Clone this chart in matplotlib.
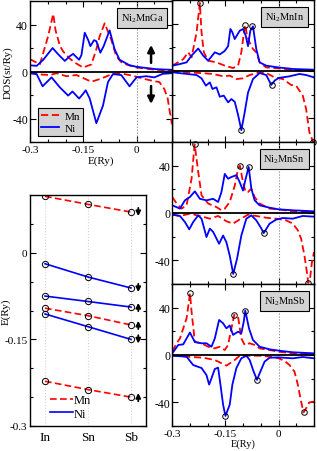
import matplotlib
matplotlib.use("Agg")
import matplotlib.pyplot as plt
from matplotlib.lines import Line2D

plt.rcParams["font.family"] = "Liberation Serif"
plt.rcParams["mathtext.fontset"] = "custom"
plt.rcParams["mathtext.rm"] = "Liberation Serif"
plt.rcParams["axes.unicode_minus"] = False

# ---- DOS curves: energy (Ry) and DOS (st/Ry) ----
ga_mn_up_e = [-0.300, -0.272, -0.249, -0.2346, -0.228, -0.216, -0.2065, -0.188, -0.174, -0.1505,
              -0.127, -0.113, -0.1037, -0.0897, -0.071, -0.057, -0.043, -0.029, 0.0, 0.055, 0.1]
ga_mn_up = [10.4, 6.2, 30, 49, 35, 22, 17, 11, 7.6, 3.4, 6, 19, 30, 41, 27, 13, 8, 6, 3.4, 1.4, 1.0]
ga_ni_up_e = [-0.300, -0.2813, -0.2626, -0.2364, -0.2206, -0.2019, -0.1879, -0.1785, -0.1617, -0.1551,
              -0.1458, -0.1364, -0.1299, -0.1196, -0.1131, -0.1019, -0.0925, -0.0757, -0.0617, -0.0477,
              -0.0196, 0.0, 0.0551, 0.1]
ga_ni_up = [5.3, 4.8, 10, 20, 14.6, 9, 13, 15, 10, 14, 33, 27, 21.6, 26.7, 25.8, 16, 21.6, 35, 19, 10,
            5.3, 4, 2, 1.4]
ga_mn_dn_e = [-0.300, -0.272, -0.244, -0.2252, -0.1972, -0.1692, -0.1271, -0.099, -0.0757, -0.0477,
              -0.0103, 0.0178, 0.0458, 0.0645, 0.0785, 0.0879, 0.0925, 0.1]
ga_mn_dn = [-1.4, -2.5, -3, -1.5, -4, -3, -8.7, -6, -3, -1.4, -3.6, -6, -8, -9, -15, -23, -32, -45]
ga_ni_dn_e = [-0.300, -0.2813, -0.2645, -0.2393, -0.2159, -0.1925, -0.1804, -0.1617, -0.1505, -0.143,
              -0.1318, -0.1131, -0.0944, -0.0804, -0.0664, -0.043, -0.0196, 0.0, 0.0271, 0.0505,
              0.0738, 0.1]
ga_ni_dn = [-1.4, -2.2, -12.6, -5, -13.5, -20.5, -17, -23, -19, -16, -23, -44, -29, -9, -2.2, -3,
            -12.6, -5, -4, -5, -2, -1.4]

in_mn_up_e = [-0.300, -0.2691, -0.255, -0.2456, -0.2316, -0.2222, -0.2175, -0.211, -0.1988, -0.1753,
              -0.1519, -0.1285, -0.1144, -0.1051, -0.0985, -0.0938, -0.0891, -0.0816, -0.0723, -0.0629,
              -0.0535, -0.0348, 0.0, 0.0402, 0.1]
in_mn_up = [4.5, 10, 15.8, 11.5, 32.4, 57.5, 32.7, 15.8, 8.7, 7.3, 4.5, 2.5, 4.5, 15.8, 31, 39, 30, 24,
            18.6, 15.8, 7.3, 3, 2.2, 1, 0.5]
in_ni_up_e = [-0.300, -0.2784, -0.2597, -0.2456, -0.2269, -0.2128, -0.1988, -0.18, -0.166, -0.1519,
              -0.1425, -0.136, -0.1304, -0.1238, -0.1097, -0.1004, -0.0929, -0.0863, -0.0798, -0.0723,
              -0.0629, -0.0535, -0.0348, 0.0, 0.0402, 0.1]
in_ni_up = [4.5, 5.9, 7.3, 13, 19, 13, 8.7, 15.8, 14, 17, 21, 35.5, 32.7, 27, 34, 35.5, 30, 21, 34, 37.7,
            18.6, 7.3, 4.5, 3, 1.7, 1.1]
in_mn_dn_e = [-0.300, -0.2597, -0.2222, -0.1847, -0.1566, -0.1379, -0.1191, -0.1004, -0.0816, -0.0535,
              -0.0348, -0.0113, 0.0122, 0.0355, 0.0496, 0.0683, 0.0777, 0.0871, 0.0977, 0.1]
in_mn_dn = [0.3, -1.1, -1.7, -2.5, -4.5, -3.9, -6.8, -6.2, -3.4, -1.1, -1.7, -5.4, -6.8, -11.8, -12.4,
            -20.8, -32, -52, -60, -64]
in_ni_dn_e = [-0.300, -0.2316, -0.2175, -0.2053, -0.1941, -0.1866, -0.1753, -0.166, -0.1547, -0.1425,
              -0.1332, -0.1238, -0.1144, -0.1051, -0.0957, -0.0863, -0.0723, -0.0535, -0.0348, -0.0207,
              -0.0113, 0.0, 0.0309, 0.059, 0.0777, 0.1]
in_ni_dn = [-1.1, -3.4, -6.2, -12.4, -9.6, -15.2, -13.8, -21.7, -20.8, -26.5, -23.7, -26, -37, -50, -35,
            -18.3, -6.8, -1.7, -3.4, -11.8, -8.2, -5.9, -4.5, -2.5, -3.4, -5.4]

sn_mn_up_e = [-0.300, -0.2878, -0.2738, -0.2597, -0.2456, -0.237, -0.2269, -0.2175, -0.1988, -0.1753,
              -0.1613, -0.1519, -0.1379, -0.1238, -0.1144, -0.109, -0.1004, -0.0929, -0.0863, -0.0769,
              -0.0676, -0.0535, -0.0254, 0.0, 0.0402, 0.1]
sn_mn_up = [13.5, 8, 3.7, 6.5, 29, 58, 34.9, 15, 8, 5, 2.3, 3.7, 9.3, 23, 37.5, 40, 26, 17.7, 17.7, 20.6,
            13.5, 8, 3.7, 3.1, 1.4, 0.8]
sn_ni_up_e = [-0.300, -0.2784, -0.2644, -0.2503, -0.2363, -0.2222, -0.2035, -0.1847, -0.1707, -0.1613,
              -0.1519, -0.1425, -0.1332, -0.1191, -0.1097, -0.1004, -0.0929, -0.0844, -0.0769, -0.0676,
              -0.0535, -0.0254, 0.0, 0.0402, 0.1]
sn_ni_up = [6.5, 3.7, 10.7, 13.5, 18.3, 12, 10.7, 12, 9.3, 17.7, 33, 29, 30.4, 32, 26, 19, 29, 39, 20.6,
            10.7, 6.5, 4.5, 3.1, 2.3, 1.4]
sn_mn_dn_e = [-0.300, -0.2784, -0.2503, -0.2222, -0.1941, -0.1707, -0.1472, -0.1285, -0.1097, -0.0863,
              -0.0629, -0.0348, -0.0067, 0.0215, 0.0402, 0.0543, 0.0636, 0.073, 0.079, 0.0838, 0.089,
              0.094, 0.1]
sn_mn_dn = [-1.4, -2.5, -0.6, -2.5, -4.8, -2.5, -7, -9, -5.4, -1.4, -2.5, -4, -4.8, -6.2, -9, -14.6,
            -21.7, -35.8, -48, -59, -55, -42, -33]
sn_ni_dn_e = [-0.300, -0.2784, -0.2644, -0.2522, -0.241, -0.2269, -0.2175, -0.2035, -0.1941, -0.1847,
              -0.1679, -0.1566, -0.1472, -0.1379, -0.128, -0.1172, -0.1051, -0.091, -0.0769, -0.0629,
              -0.0488, -0.042, -0.0254, -0.0067, 0.0122, 0.0402, 0.0683, 0.1]
sn_ni_dn = [-1.4, -2.5, -7.6, -13.8, -7.6, -2, -4.8, -20.3, -13.2, -16, -26, -19, -24.8, -36, -51.5,
            -38.6, -19, -4.8, -2, -6.2, -13, -17, -9, -5.6, -4.2, -4.8, -2.5, -3.1]

sb_mn_up_e = [-0.300, -0.2878, -0.2784, -0.2597, -0.250, -0.2456, -0.2363, -0.2175, -0.1988, -0.18,
              -0.166, -0.1519, -0.1425, -0.1332, -0.125, -0.1144, -0.1051, -0.0957, -0.0816, -0.0676,
              -0.0535, -0.0254, 0.0, 0.0402, 0.1]
sb_mn_up = [2.8, 10, 14, 31, 52, 36.6, 11, 9.9, 7, 5.6, 7, 4.2, 8.5, 22.5, 34, 32.4, 14, 8.5, 9.9, 8.5,
            5.6, 4.2, 2.8, 1.4, 0.6]
sb_ni_up_e = [-0.300, -0.2831, -0.2691, -0.2503, -0.2363, -0.2175, -0.2035, -0.1894, -0.18, -0.1679,
              -0.1566, -0.1472, -0.1379, -0.1285, -0.1144, -0.1051, -0.0984, -0.094, -0.0835, -0.0723,
              -0.0535, -0.0254, 0.0, 0.0402, 0.1]
sb_ni_up = [1.4, 8.5, 9, 19, 11, 9.9, 9.9, 7, 14, 29.6, 26.8, 22.5, 25, 17, 19.7, 18.3, 28, 37.5, 22.5,
            12.7, 7, 4.8, 3.7, 2.3, 1.4]
sb_mn_dn_e = [-0.300, -0.2597, -0.2128, -0.18, -0.1472, -0.1238, -0.1097, -0.0816, -0.0535, -0.0254,
              0.0, 0.0168, 0.0309, 0.0449, 0.0543, 0.0636, 0.0705, 0.0777, 0.0871, 0.1]
sb_mn_dn = [-0.6, -1.4, -2.3, -4.2, -9, -4.2, -0.6, -0.6, -0.6, -1.4, -2.8, -5, -8.5, -14, -25, -39.4,
            -48.5, -45, -40, -39.4]
sb_ni_dn_e = [-0.300, -0.2597, -0.241, -0.2269, -0.2175, -0.2035, -0.196, -0.1894, -0.18, -0.1707,
              -0.1641, -0.1566, -0.150, -0.1379, -0.1304, -0.1191, -0.1051, -0.091, -0.0816, -0.0704,
              -0.061, -0.0535, -0.0395, -0.0254, 0.0, 0.0402, 0.0683, 0.1]
sb_ni_dn = [-0.6, -1.4, -8.5, -10, -11, -17, -25, -19.7, -11.8, -10.7, -25, -42, -51.5, -42, -25, -11,
            -2.8, -0.6, -4.2, -14, -21, -15.5, -5.6, -2.3, -2, -2.8, -1.7, -2.8]

# ---- peak energies (Ry) for X = In, Sn, Sb ----
hosts = ["In", "Sn", "Sb"]
mn_levels = [[0.0977, 0.0838, 0.0705],
             [-0.096, -0.109, -0.125],
             [-0.2225, -0.237, -0.250]]
mn_spins = ["down", "up", "up"]
ni_levels = [[-0.019, -0.042, -0.061],
             [-0.075, -0.0844, -0.094],
             [-0.106, -0.128, -0.150]]
ni_spins = ["down", "up", "down"]

# DOS height of the marked peaks in each panel (same order as the levels)
mn_peak_dos = {"In": [-60, 39, 57.5], "Sn": [-59, 40, 58], "Sb": [-48.5, 34, 52]}
ni_peak_dos = {"In": [-11.8, 37.7, -50], "Sn": [-17, 39, -51.5], "Sb": [-21, 37.5, -51.5]}

RED = "#ff0000"
BLUE = "#0000ff"
GREY = "#d3d3d3"
DASH = (0, (4, 2))
W, H = 317, 452


def box(left, top, right, bottom):
    return [left / W, 1 - bottom / H, (right - left) / W, (bottom - top) / H]


def style_ticks(ax):
    ax.tick_params(which="both", direction="in", top=True, right=True, labelsize=8.5)
    ax.tick_params(which="major", length=4, width=0.8)
    ax.tick_params(which="minor", length=2.5, width=0.8)
    for s in ax.spines.values():
        s.set_linewidth(1.0)


def dos_panel(ax, curves, label, host=None):
    ax.set_xlim(-0.3, 0.1)
    ax.set_ylim(-60, 60)
    ax.axvline(0, color="grey", ls=":", lw=0.8)
    ax.axhline(0, color="black", lw=1.3, zorder=3)
    (mn_u_e, mn_u, ni_u_e, ni_u, mn_d_e, mn_d, ni_d_e, ni_d) = curves
    ax.plot(mn_u_e, mn_u, color=RED, ls=DASH, lw=1.3, label="Mn")
    ax.plot(ni_u_e, ni_u, color=BLUE, lw=1.3, label="Ni")
    ax.plot(mn_d_e, mn_d, color=RED, ls=DASH, lw=1.3)
    ax.plot(ni_d_e, ni_d, color=BLUE, lw=1.3)
    if host is not None:
        k = hosts.index(host)
        ax.plot([lv[k] for lv in mn_levels], mn_peak_dos[host], "o", mfc="none", mec="black",
                ms=4, mew=0.7, clip_on=False, zorder=5)
        ax.plot([lv[k] for lv in ni_levels], ni_peak_dos[host], "o", mfc="none", mec="black",
                ms=4, mew=0.7, clip_on=False, zorder=5)
    ax.set_xticks([-0.3, -0.15, 0])
    ax.set_xticks([-0.25, -0.2, -0.1, -0.05, 0.05, 0.1], minor=True)
    ax.set_xticklabels(["-0.3", "-0.15", "0"])
    ax.set_yticks([-40, 0, 40])
    ax.set_yticks([-60, -20, 20, 60], minor=True)
    style_ticks(ax)
    ax.tick_params(axis="y", pad=1.5)
    ax.tick_params(axis="x", pad=2.5, labelsize=8)
    ax.text(0.79, 0.88, label, transform=ax.transAxes, ha="center", va="center", fontsize=7.5,
            bbox=dict(boxstyle="square,pad=0.35", fc=GREY, ec="black", lw=0.8), zorder=6)


fig = plt.figure(figsize=(W / 100, H / 100), dpi=100)

# Ni2MnGa
ax_ga = fig.add_axes(box(30, 2, 172, 143))
dos_panel(ax_ga, (ga_mn_up_e, ga_mn_up, ga_ni_up_e, ga_ni_up, ga_mn_dn_e, ga_mn_dn, ga_ni_dn_e, ga_ni_dn),
          r"Ni$_2$MnGa")
ax_ga.set_xlabel("E(Ry)", fontsize=8)
ax_ga.set_ylabel("DOS(st/Ry)", fontsize=8)
ax_ga.yaxis.set_label_coords(-0.125, 0.5)
ax_ga.xaxis.set_label_coords(0.5, -0.095)
ax_ga.annotate("", xy=(0.041, 25), xytext=(0.041, 5),
               arrowprops=dict(arrowstyle="-|>", lw=1.8, color="black", mutation_scale=10))
ax_ga.annotate("", xy=(0.041, -30), xytext=(0.041, -10),
               arrowprops=dict(arrowstyle="-|>", lw=1.8, color="black", mutation_scale=10))
leg = ax_ga.legend(loc="lower left", bbox_to_anchor=(0.056, 0.043), borderaxespad=0, fontsize=8,
                   handlelength=1.6, handletextpad=0.5, labelspacing=0.15, borderpad=0.3,
                   fancybox=False, framealpha=1, facecolor=GREY, edgecolor="black")
leg.get_frame().set_linewidth(0.8)

# Ni2MnIn / Sn / Sb
ax_in = fig.add_axes(box(172.3, 1, 314, 143))
dos_panel(ax_in, (in_mn_up_e, in_mn_up, in_ni_up_e, in_ni_up, in_mn_dn_e, in_mn_dn, in_ni_dn_e, in_ni_dn),
          r"Ni$_2$MnIn", "In")
ax_in.tick_params(labelleft=False, labelbottom=False)

ax_sn = fig.add_axes(box(172.3, 143, 314, 285))
dos_panel(ax_sn, (sn_mn_up_e, sn_mn_up, sn_ni_up_e, sn_ni_up, sn_mn_dn_e, sn_mn_dn, sn_ni_dn_e, sn_ni_dn),
          r"Ni$_2$MnSn", "Sn")
ax_sn.tick_params(labelbottom=False)

ax_sb = fig.add_axes(box(172.3, 285, 314, 427))
dos_panel(ax_sb, (sb_mn_up_e, sb_mn_up, sb_ni_up_e, sb_ni_up, sb_mn_dn_e, sb_mn_dn, sb_ni_dn_e, sb_ni_dn),
          r"Ni$_2$MnSb", "Sb")
ax_sb.set_xlabel("E(Ry)", fontsize=7.5)
ax_sb.xaxis.set_label_coords(0.5, -0.088)

# keep the Ga panel above the In panel
ax_ga.set_zorder(2)

# level diagram
ax_lv = fig.add_axes(box(30, 196, 146, 427))
xs = range(len(hosts))
for x in xs:
    ax_lv.axvline(x, color="lightgrey", ls=":", lw=0.8, zorder=0)
arrow_x = len(hosts) - 1 + 0.17
for i, lv in enumerate(mn_levels):
    ax_lv.plot(xs, lv, color=RED, ls=DASH, lw=1.2, marker="o", mfc="none", mec="black",
               ms=4.5, mew=0.7)
    d = 0.012 if mn_spins[i] == "up" else -0.012
    ax_lv.annotate("", xy=(arrow_x, lv[-1] + d), xytext=(arrow_x, lv[-1] - d),
                   arrowprops=dict(arrowstyle="-|>", lw=1.3, color="black", mutation_scale=7))
for i, lv in enumerate(ni_levels):
    ax_lv.plot(xs, lv, color=BLUE, lw=1.2, marker="o", mfc="none", mec="black",
               ms=4.5, mew=0.7)
    d = 0.012 if ni_spins[i] == "up" else -0.012
    ax_lv.annotate("", xy=(arrow_x, lv[-1] + d), xytext=(arrow_x, lv[-1] - d),
                   arrowprops=dict(arrowstyle="-|>", lw=1.3, color="black", mutation_scale=7))
ax_lv.set_xlim(-0.35, len(hosts) - 1 + 0.35)
ax_lv.set_ylim(-0.3, 0.1)
ax_lv.set_xticks(list(xs))
ax_lv.set_xticklabels(hosts, fontsize=9.5)
ax_lv.set_yticks([-0.3, -0.15, 0])
ax_lv.set_yticklabels(["-0.3", "-0.15", "0"])
ax_lv.set_yticks([-0.25, -0.2, -0.1, -0.05, 0.05], minor=True)
style_ticks(ax_lv)
ax_lv.tick_params(axis="x", which="both", top=False, bottom=False, labelsize=9.5)
ax_lv.tick_params(axis="y", pad=2, labelsize=8)
ax_lv.set_ylabel("E(Ry)", fontsize=8)
ax_lv.yaxis.set_label_coords(-0.17, 0.5)
lv_handles = [Line2D([], [], color=RED, ls=DASH, lw=1.2), Line2D([], [], color=BLUE, lw=1.2)]
ax_lv.legend(lv_handles, ["Mn", "Ni"], loc="lower left", bbox_to_anchor=(0.1, -0.01), frameon=False,
             fontsize=9, handlelength=1.8, handletextpad=0.1, labelspacing=0.1, borderpad=0.2)

fig.savefig("out.png", dpi=100)
